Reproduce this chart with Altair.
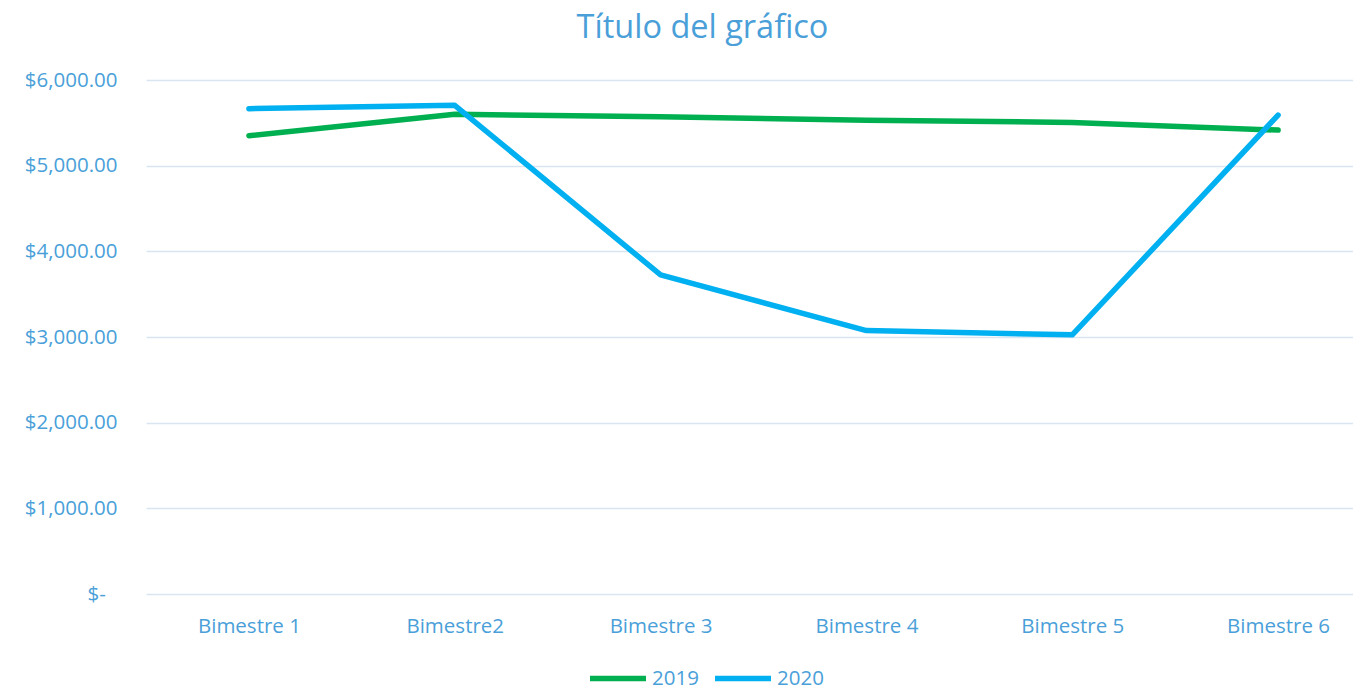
import json
import altair as alt
import pandas as pd

categories = ["Bimestre 1", "Bimestre2", "Bimestre 3", "Bimestre 4", "Bimestre 5", "Bimestre 6"]
series = ["2019", "2020"]
v2019 = [5350, 5600, 5570, 5530, 5505, 5415]
v2020 = [5665, 5705, 3725, 3075, 3025, 5590]
y_ticks = [0, 1000, 2000, 3000, 4000, 5000, 6000]

rows = []
for s, vals in zip(series, [v2019, v2020]):
    for i, (c, v) in enumerate(zip(categories, vals)):
        rows.append({"idx": i, "Bimestre": c, "Serie": s, "Valor": v})
df = pd.DataFrame(rows)

TEXT = "#4a9fd9"
FONT = "Open Sans"

y_label_expr = ("datum.value == 0 ? '$-\u2007\u200b' : '$' + format(datum.value, ',.2f')")
x_label_expr = json.dumps(categories) + "[datum.value]"

chart = alt.Chart(df).mark_line(
    strokeWidth=5.5, strokeCap="round", strokeJoin="round"
).encode(
    x=alt.X(
        "idx:Q",
        scale=alt.Scale(domain=[-0.5, 5.364], nice=False, zero=False),
        axis=alt.Axis(title=None, values=list(range(len(categories))), labelExpr=x_label_expr,
                      labelAngle=0, ticks=False, domain=False, grid=False,
                      labelFontSize=20.5, labelColor=TEXT, labelFont=FONT, labelPadding=22),
    ),
    y=alt.Y(
        "Valor:Q",
        scale=alt.Scale(domain=[0, 6000], nice=False),
        axis=alt.Axis(title=None, values=y_ticks, labelExpr=y_label_expr, domain=False, ticks=False,
                      gridColor="#d9e6f2", gridWidth=1.5, labelPadding=29,
                      labelFontSize=20.5, labelColor=TEXT, labelFont=FONT),
    ),
    color=alt.Color(
        "Serie:N",
        scale=alt.Scale(domain=series, range=["#00b050", "#00b0f0"]),
        legend=alt.Legend(title=None, orient="none", legendX=441, legendY=567.5,
                          direction="horizontal", symbolType="stroke", symbolSize=3136,
                          symbolStrokeWidth=5.5, labelFontSize=20.5, labelColor=TEXT,
                          labelFont=FONT, labelOffset=3, columnPadding=5, padding=0),
    ),
).properties(
    width=1207,
    height=514,
    autosize=alt.AutoSizeParams(type="none"),
    padding={"left": 138, "top": 72, "right": 0, "bottom": 94},
    title=alt.TitleParams(text="Título del gráfico", fontSize=32.5, font=FONT, color=TEXT,
                          fontWeight="normal", anchor="middle", frame="group", dx=-47,
                          offset=26),
).configure_view(stroke=None)

chart.save("out.html", embed_options={"renderer": "svg", "actions": False})
